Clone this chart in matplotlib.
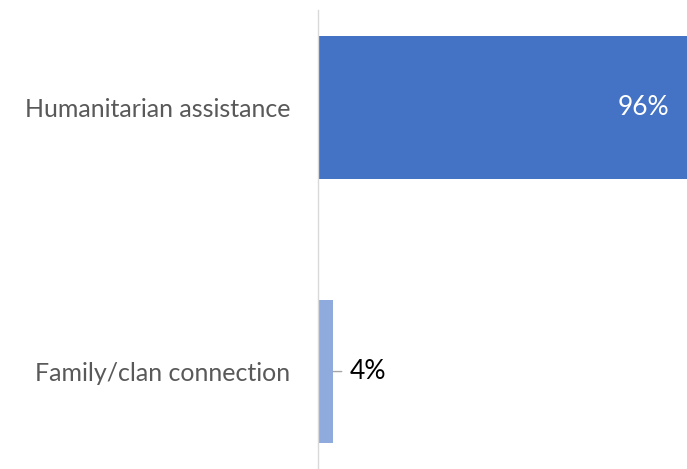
import matplotlib
matplotlib.use("Agg")
import matplotlib.pyplot as plt

categories = ["Humanitarian assistance", "Family/clan connection"]
values = [96, 4]
labels = ["96%", "4%"]
colors = ["#4472C4", "#8FAADC"]

plt.rcParams['font.family'] = ['Lato', 'DejaVu Sans']

fig = plt.figure(figsize=(6.87, 4.69), dpi=100)
ax = fig.add_axes([318/687, 0, 1 - 318/687, 459/469])

y = list(range(len(categories)))
ax.barh(y, values, height=0.54, color=colors)
ax.set_xlim(0, 96)
ax.set_ylim(1.369, -0.369)

ax.set_yticks(y)
ax.set_yticklabels(categories, fontsize=18, color="#595959")
ax.tick_params(axis='y', length=0, pad=20)
ax.set_xticks([])
for s in ["top", "right", "bottom"]:
    ax.spines[s].set_visible(False)
ax.spines["left"].set_color("#D9D9D9")
ax.spines["left"].set_linewidth(1.0)

# inside label for big bar
ax.annotate(labels[0], xy=(values[0], 0), xytext=(-13, 0), textcoords="offset points",
            ha="right", va="center", color="white", fontsize=19)
# outside label with leader line for small bar
ax.annotate(labels[1], xy=(values[1], 1), xytext=(11.5, 0), textcoords="offset points",
            ha="left", va="center", color="black", fontsize=19,
            arrowprops=dict(arrowstyle='-', color="#A6A6A6", lw=1, shrinkA=3.5, shrinkB=0))

fig.savefig("out.png", dpi=100)
